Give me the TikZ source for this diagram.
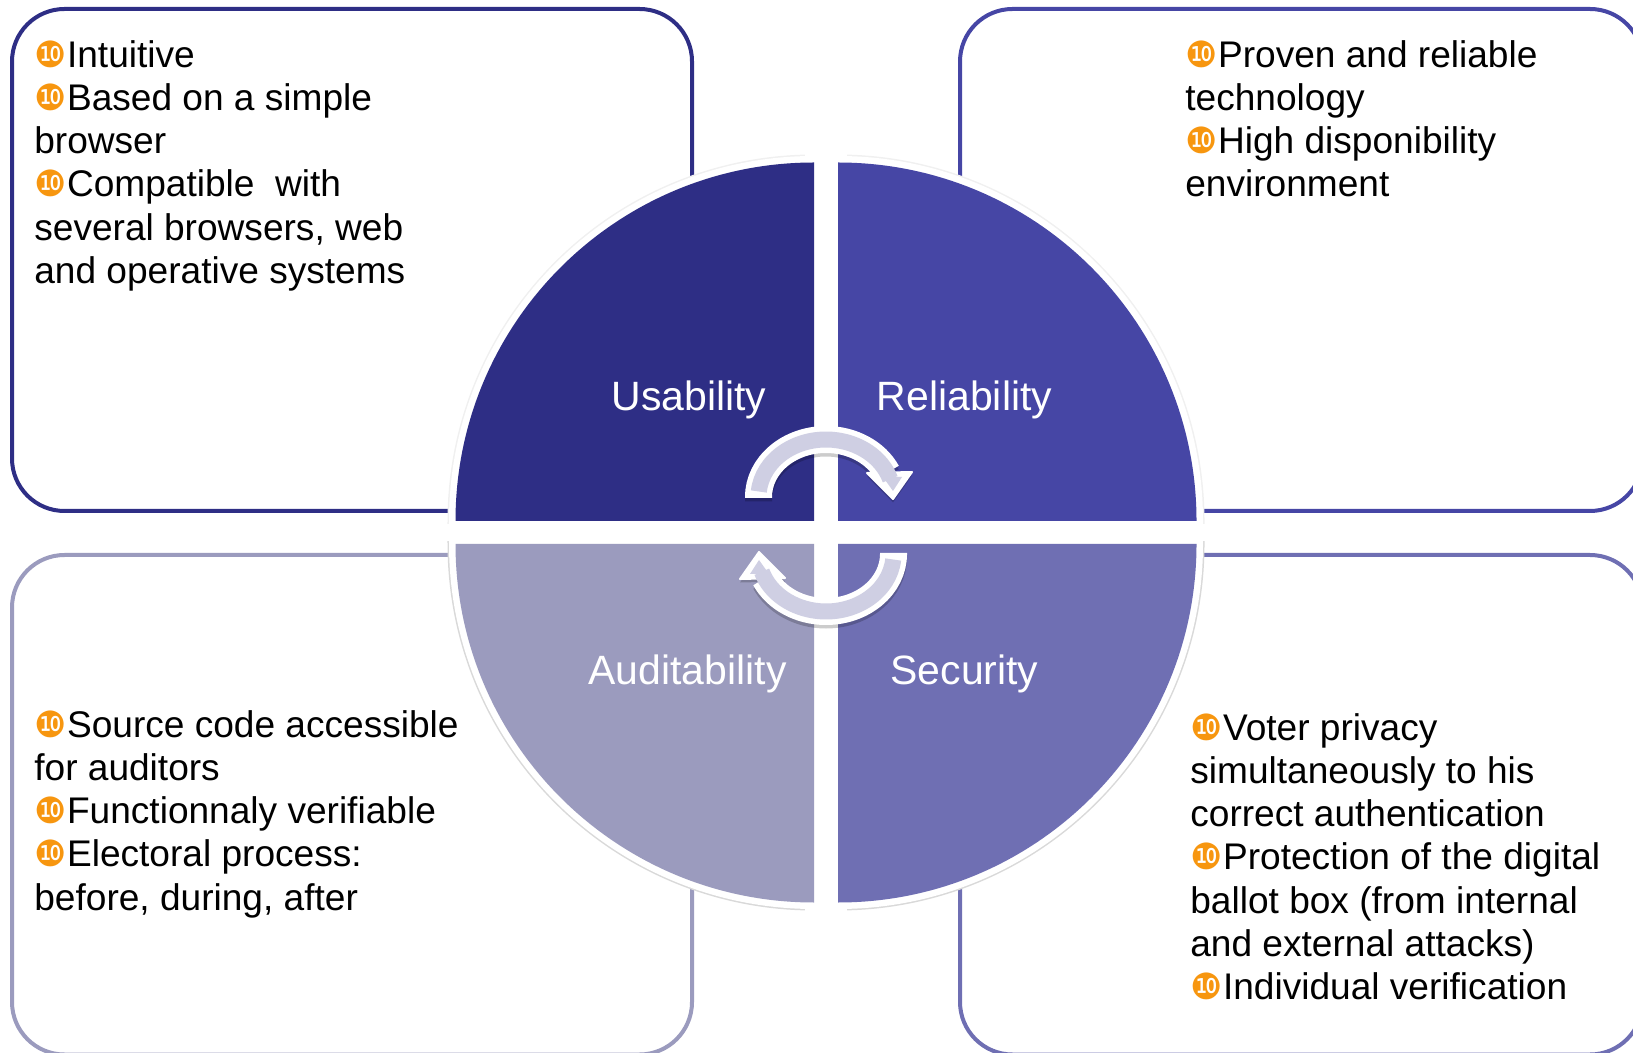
\documentclass[tikz,border=0pt]{standalone}
\usepackage{fontspec}
\setmainfont{Liberation Sans}
\newfontfamily\dingfont{DejaVu Sans}
\definecolor{usablue}{HTML}{2E2E85}
\definecolor{relblue}{HTML}{4646A5}
\definecolor{secblue}{HTML}{6F6FB3}
\definecolor{audblue}{HTML}{9B9BBE}
\definecolor{bandgray}{HTML}{CFCFE3}
\definecolor{tenorange}{HTML}{F7960F}
\newcommand{\tenmark}{\makebox[18.6pt][l]{\color{tenorange}\dingfont\fontsize{20.5}{24}\selectfont ❿}}
\tikzset{
    framebox/.style={line width=0.08cm, rounded corners=1.05cm},
    sectorlabel/.style={text=white, font=\fontsize{23.3}{28}\selectfont},
    listtext/.style={anchor=north west, inner sep=0pt, align=left, font=\fontsize{21.1}{24.6}\selectfont}
}
\begin{document}
\begin{tikzpicture}
            \useasboundingbox (0,0) rectangle (32.66,21.04);
            \clip (0,0) rectangle (32.66,21.04);
            % frames behind the disc
            \draw[framebox, draw=usablue] (0.24,10.82) rectangle (13.84,20.86);
            \draw[framebox, draw=relblue] (19.2,10.82) rectangle (32.85,20.86);
            \draw[framebox, draw=audblue] (0.24,-0.05) rectangle (13.84,9.94);
            \draw[framebox, draw=secblue] (19.2,-0.05) rectangle (32.85,9.94);
            % faint edge of the disc
            \draw[black!6, line width=0.32cm] (16.28,10.62) -- (9.11,10.62) arc (180:90:7.17) -- cycle;
            \draw[black!6, line width=0.32cm] (16.76,10.62) -- (23.93,10.62) arc (0:90:7.17) -- cycle;
            \draw[black!15, line width=0.32cm] (16.28,10.16) -- (9.11,10.16) arc (180:270:7.17) -- cycle;
            \draw[black!15, line width=0.32cm] (16.76,10.16) -- (23.93,10.16) arc (0:-90:7.17) -- cycle;
            \draw[white, line width=0.26cm] (16.28,10.62) -- (9.11,10.62) arc (180:90:7.17) -- cycle;
            \draw[white, line width=0.26cm] (16.76,10.62) -- (23.93,10.62) arc (0:90:7.17) -- cycle;
            \draw[white, line width=0.26cm] (16.28,10.16) -- (9.11,10.16) arc (180:270:7.17) -- cycle;
            \draw[white, line width=0.26cm] (16.76,10.16) -- (23.93,10.16) arc (0:-90:7.17) -- cycle;
            \fill[white] (16.1,0) rectangle (16.94,21.04);
            \fill[white] (8,10.22) rectangle (25,10.56);
            % the four sectors
            \fill[usablue] (16.28,10.62) -- (9.11,10.62) arc (180:90:7.17) -- cycle;
            \fill[relblue] (16.76,10.62) -- (23.93,10.62) arc (0:90:7.17) -- cycle;
            \fill[audblue] (16.28,10.16) -- (9.11,10.16) arc (180:270:7.17) -- cycle;
            \fill[secblue] (16.76,10.16) -- (23.93,10.16) arc (0:-90:7.17) -- cycle;
            \node[sectorlabel] (usability) at (13.78,13.04) {Usability};
            \node[sectorlabel] (reliability) at (19.29,13.04) {Reliability};
            \node[sectorlabel] (auditability) at (13.75,7.56) {Auditability};
            \node[sectorlabel] (security) at (19.29,7.56) {Security};
            % turning arrows
            \foreach \turn in {0,180} {
                \begin{scope}[yshift=-0.07cm, rotate around={\turn:(16.52,10.53)}]
                    \draw[black, opacity=0.2, line width=0.54cm] (15.17,11.08) -- (15.17,11.1) arc (180:25:1.35 and 1.15);
                    \fill[black, opacity=0.2] (17.34,11.58) -- (18.24,11.6) -- (17.86,11.06) -- cycle;
                \end{scope}
                \begin{scope}[rotate around={\turn:(16.52,10.53)}]
                    \draw[white, line width=0.54cm] (15.17,11.08) -- (15.17,11.1) arc (180:25:1.35 and 1.15);
                    \draw[white, fill=white, line width=0.04cm, line join=round] (17.34,11.58) -- (18.24,11.6) -- (17.86,11.06) -- cycle;
                    \draw[bandgray, line width=0.32cm] (15.176,11.21) arc (174.5:18:1.35 and 1.15);
                    \fill[bandgray] (17.66,11.5) -- (18.04,11.5) -- (17.86,11.22) -- cycle;
                \end{scope}
            }
            % the four lists
            \node[listtext] (usalist) at (0.68,20.24) {\tenmark Intuitive\\\tenmark Based on a simple\\browser\\\tenmark Compatible\ \ with\\several browsers, web\\and operative systems};
            \node[listtext] (rellist) at (23.7,20.24) {\tenmark Proven and reliable\\technology\\\tenmark High disponibility\\environment};
            \node[listtext] (audlist) at (0.68,6.84) {\tenmark Source code accessible\\for auditors\\\tenmark Functionnaly verifiable\\\tenmark Electoral process:\\before, during, after};
            \node[listtext] (seclist) at (23.8,6.78) {\tenmark Voter privacy\\simultaneously to his\\correct authentication\\\tenmark Protection of the digital\\ballot box (from internal\\and external attacks)\\\tenmark Individual verification};
        \end{tikzpicture}
\end{document}
